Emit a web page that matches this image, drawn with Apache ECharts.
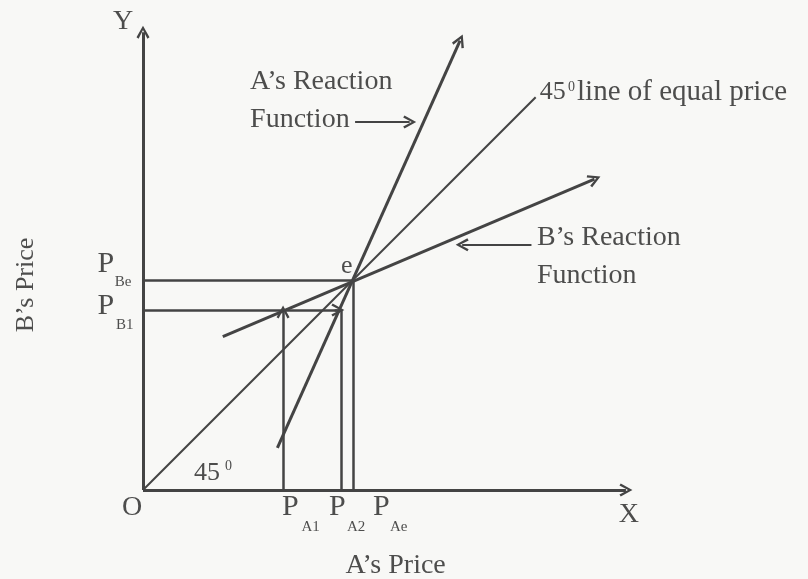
<!DOCTYPE html>
<html>
<head>
<meta charset="utf-8">
<title>Bertrand reaction functions</title>
<script src="https://cdn.jsdelivr.net/npm/echarts@6/dist/echarts.min.js"></script>
<style>
  html, body { margin: 0; padding: 0; background: #f8f8f6; }
  #chart { width: 808px; height: 579px; }
</style>
</head>
<body>
<div id="chart"></div>
<script>
// prices (same unit on both axes, so the equal price line is at 45 degrees)
var priceA1 = 66.7;
var priceA2 = 94.3;
var priceAe = 100;
var priceB1 = 85.7;
var priceBe = 100;

// reaction functions and the line of equal price, as [start, end]
var reactionA = [[64, 20], [151, 214]];
var reactionB = [[38, 73], [215, 148]];
var equalPrice = [[0, 0], [187, 187]];
var axisEnds = [230, 218];

// pointer arrows next to the captions
var pointerA = [[101, 175.2], [127, 175.2]];
var pointerB = [[185, 116.7], [152, 116.7]];

// text: [text, x, y, size, align]
var captions = [
    ['Y', -9.5, 222.9, 28, 'center'],
    ['O', -5.2, -8.6, 28, 'center'],
    ['X', 231.4, -11.9, 28, 'center'],
    ["A\u2019s Reaction", 51, 194.5, 28, 'left'],
    ['Function', 51, 176.5, 28, 'left'],
    ['45', 189, 189.3, 26, 'left'],
    ['line of equal price', 206.7, 189.3, 29, 'left'],
    ["B\u2019s Reaction", 187.6, 120, 28, 'left'],
    ['Function', 187.6, 102, 28, 'left'],
    ['e', 97.1, 106.5, 26, 'center'],
    ['P', -21.7, 107.5, 30, 'left'],
    ['P', -21.7, 87.6, 30, 'left'],
    ['P', 66.2, -8.2, 30, 'left'],
    ['P', 88.6, -8.2, 30, 'left'],
    ['P', 109.5, -8.2, 30, 'left'],
    ['45', 24.3, 8.1, 26, 'left'],
    ["A\u2019s Price", 120.3, -36, 28, 'center']
];
var smallCaptions = [
    ['0', 202.4, 191.9, 14, 'left'],
    ['0', 39, 11.4, 14, 'left'],
    ['Be', -13.5, 99, 15, 'left'],
    ['B1', -12.8, 78.5, 15, 'left'],
    ['A1', 75.5, -17.6, 15, 'left'],
    ['A2', 97.1, -17.6, 15, 'left'],
    ['Ae', 117.6, -17.6, 15, 'left']
];

var ink = '#444444';
var chevron = 'path://M5,0 L10,9 L8.4,10 L5,3.4 L1.6,10 L0,9 Z';

function seg(a, b, arrow, width) {
    return {
        coords: [a, b],
        symbol: ['none', arrow ? chevron : 'none'],
        symbolSize: arrow ? [13, 13] : 0,
        lineStyle: { width: width }
    };
}

var segments = [
    seg([0, 0], [axisEnds[0], 0], true, 3),
    seg([0, 0], [0, axisEnds[1]], true, 3),
    seg(reactionA[0], reactionA[1], true, 3),
    seg(reactionB[0], reactionB[1], true, 3),
    seg(equalPrice[0], equalPrice[1], false, 2),
    seg([0, priceBe], [priceAe, priceBe], false, 2.5),
    seg([priceAe, 0], [priceAe, priceBe], false, 2.5),
    seg([0, priceB1], [priceA2, priceB1], false, 2.5),
    seg([priceA2 - 3, priceB1], [priceA2 - 1.5, priceB1], true, 2.5),
    seg([priceA2, 0], [priceA2, priceB1], false, 2.5),
    seg([priceA1, 0], [priceA1, priceB1 - 1], true, 2.5),
    seg(pointerA[0], pointerA[1], true, 2),
    seg(pointerB[0], pointerB[1], true, 2)
];

function textItems(list) {
    return list.map(function (c) {
        return {
            value: [c[1], c[2]],
            name: c[0],
            label: { fontSize: c[3], align: c[4] }
        };
    });
}

var textLook = {
    show: true,
    position: 'inside',
    color: '#222222',
    textBorderWidth: 0,
    fontFamily: 'Liberation Serif',
    verticalAlign: 'middle'
};

var myChart = echarts.init(document.getElementById('chart'));
var option = {
    backgroundColor: '#f8f8f6',
    animation: false,
    grid: { left: 0, right: 0, top: 0, bottom: 0 },
    xAxis: { type: 'value', min: -68.1, max: 316.7, show: false },
    yAxis: { type: 'value', min: -42.4, max: 233.3, show: false },
    series: [{
        type: 'lines',
        coordinateSystem: 'cartesian2d',
        lineStyle: { color: ink, opacity: 1 },
        itemStyle: { color: ink },
        data: segments
    }, {
        type: 'scatter',
        symbolSize: 0,
        clip: false,
        itemStyle: { color: '#222222' },
        label: Object.assign({ formatter: '{b}' }, textLook),
        data: textItems(captions).concat(textItems(smallCaptions))
    }, {
        type: 'scatter',
        symbolSize: 0,
        clip: false,
        itemStyle: { color: '#222222' },
        label: Object.assign({ formatter: "B\u2019s Price", rotate: 90, fontSize: 26 }, textLook),
        data: [[-55.7, 97.6]]
    }]
};
myChart.setOption(option);
</script>
</body>
</html>
